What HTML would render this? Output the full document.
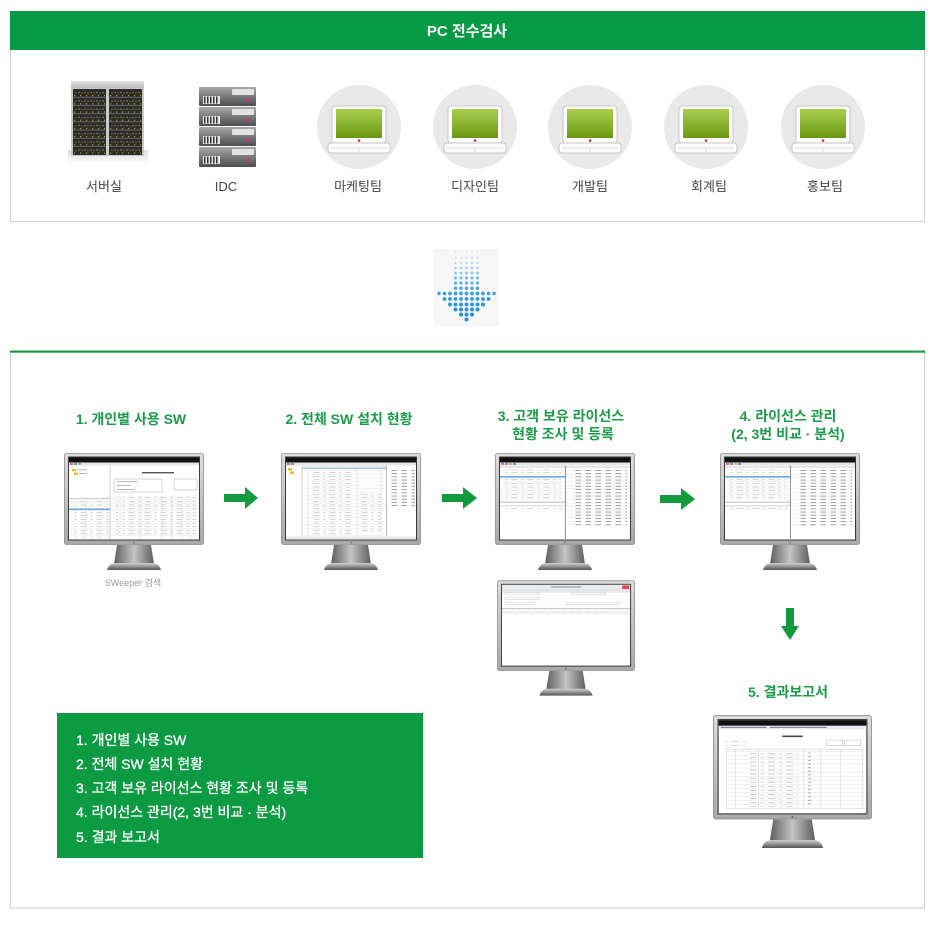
<!DOCTYPE html>
<html><head><meta charset="utf-8">
<style>
html,body{margin:0;padding:0;background:#fff;}
svg{display:block;}
text{font-family:"Liberation Sans","Noto Sans CJK KR",sans-serif;}
</style></head><body>
<svg width="940" height="928" viewBox="0 0 940 928" xmlns="http://www.w3.org/2000/svg">
<defs>
  <linearGradient id="bez" x1="0" y1="0" x2="0" y2="1">
    <stop offset="0" stop-color="#dedede"/><stop offset="1" stop-color="#a8a8a8"/>
  </linearGradient>
  <linearGradient id="neck" x1="0" y1="0" x2="1" y2="0">
    <stop offset="0" stop-color="#5e5e5e"/><stop offset="0.5" stop-color="#c4c4c4"/><stop offset="1" stop-color="#5e5e5e"/>
  </linearGradient>
  <linearGradient id="base" x1="0" y1="0" x2="0" y2="1">
    <stop offset="0" stop-color="#d0d0d0"/><stop offset="1" stop-color="#555"/>
  </linearGradient>
  <linearGradient id="lg" x1="0" y1="0" x2="0" y2="1">
    <stop offset="0" stop-color="#a9cf50"/><stop offset="1" stop-color="#6a9810"/>
  </linearGradient>
  <linearGradient id="srv" x1="0" y1="0" x2="0" y2="1">
    <stop offset="0" stop-color="#a8a8a8"/><stop offset="0.5" stop-color="#7a7a7a"/><stop offset="1" stop-color="#4e4e4e"/>
  </linearGradient>
  <linearGradient id="cap" x1="0" y1="0" x2="0" y2="1">
    <stop offset="0" stop-color="#e4e4e4"/><stop offset="1" stop-color="#b8b8b8"/>
  </linearGradient>
  <linearGradient id="shadow" x1="0" y1="0" x2="0" y2="1">
    <stop offset="0" stop-color="#dcdcdc"/><stop offset="1" stop-color="#fafafa"/>
  </linearGradient>
  <pattern id="yd" width="6" height="8.2" patternUnits="userSpaceOnUse">
    <rect x="0.5" y="2" width="1.2" height="0.9" fill="#c9c23e"/>
    <rect x="3.5" y="2.4" width="1" height="0.9" fill="#b8b030"/>
    <rect x="2" y="5" width="1.2" height="0.9" fill="#c9c23e"/>
  </pattern>
  <pattern id="txt" width="16" height="3.6" patternUnits="userSpaceOnUse">
    <rect x="0.5" y="1.3" width="6" height="0.6" fill="#b0b0b0"/>
    <rect x="10" y="1.3" width="3" height="0.6" fill="#c0c0c0"/>
  </pattern>
  <pattern id="txtd" width="10" height="3.2" patternUnits="userSpaceOnUse">
    <rect x="0.5" y="1.1" width="5.5" height="0.7" fill="#7a7a7a"/>
  </pattern>
  <pattern id="rowl" width="10" height="3.6" patternUnits="userSpaceOnUse">
    <rect x="0" y="3.2" width="10" height="0.3" fill="#d6d6d6"/>
  </pattern>

  <symbol id="mon" viewBox="0 0 140 117">
    <rect x="0.5" y="0.5" width="139" height="91" rx="2" fill="url(#bez)" stroke="#8c8c8c" stroke-width="0.8"/>
    <rect x="4" y="3.5" width="132" height="84" fill="#3a3a3a"/>
    <rect x="5" y="4.5" width="130" height="82" fill="#fff"/>
    <circle cx="70" cy="89.6" r="0.8" fill="#666"/>
    <path d="M53,92 L87,92 L90,111 L50,111 Z" fill="url(#neck)"/>
    <path d="M43,117 Q45,110 52,110 L88,110 Q95,110 97,117 Z" fill="url(#base)"/>
    <rect x="5" y="4.5" width="130" height="5" fill="#111"/>
    <rect x="5" y="9.5" width="130" height="3" fill="#e6e6e6"/>
  </symbol>

  <symbol id="s1" viewBox="0 0 140 117">
    <rect x="6" y="10.3" width="3" height="1.4" fill="#c44"/><rect x="10" y="10.3" width="3" height="1.4" fill="#47a"/><rect x="14" y="10.3" width="3" height="1.4" fill="#7a4"/>
    <line x1="46" y1="12.5" x2="46" y2="86" stroke="#999" stroke-width="0.5"/>
    <rect x="8" y="16" width="4" height="2.5" fill="#e5bf3c"/><rect x="10" y="19.5" width="4" height="2.5" fill="#e5bf3c"/>
    <rect x="13" y="16.5" width="10" height="0.7" fill="#999"/><rect x="15" y="20" width="8" height="0.7" fill="#999"/>
    <rect x="5" y="45" width="41" height="1.2" fill="#ccc"/>
    <rect x="6" y="47.5" width="39" height="37" fill="url(#rowl)"/>
    <rect x="6" y="47.5" width="39" height="37" fill="url(#txt)"/>
    <rect x="5" y="55.5" width="41" height="1.6" fill="#6aaae4"/>
    <line x1="22" y1="47" x2="22" y2="85" stroke="#ccc" stroke-width="0.4"/>
    <rect x="78" y="19" width="32" height="1.4" fill="#555"/>
    <rect x="50" y="26" width="48" height="13" fill="none" stroke="#aaa" stroke-width="0.5"/>
    <rect x="53" y="28" width="20" height="0.7" fill="#999"/><rect x="53" y="32" width="14" height="0.7" fill="#999"/><rect x="53" y="36" width="18" height="0.7" fill="#999"/>
    <rect x="110" y="26" width="23" height="11" fill="none" stroke="#aaa" stroke-width="0.5"/>
    <rect x="48" y="43" width="86" height="42" fill="url(#rowl)"/>
    <rect x="52" y="44" width="80" height="40" fill="url(#txt)"/>
    <g stroke="#ccc" stroke-width="0.4"><line x1="56" y1="43" x2="56" y2="85"/><line x1="77" y1="43" x2="77" y2="85"/><line x1="98" y1="43" x2="98" y2="85"/><line x1="108" y1="43" x2="108" y2="85"/><line x1="118" y1="43" x2="118" y2="85"/><line x1="126" y1="43" x2="126" y2="85"/></g>
  </symbol>

  <symbol id="s2" viewBox="0 0 140 117">
    <rect x="6" y="10.3" width="3" height="1.4" fill="#c44"/><rect x="10" y="10.3" width="3" height="1.4" fill="#47a"/>
    <rect x="7" y="15" width="4" height="2.5" fill="#e5bf3c"/><rect x="9" y="18.5" width="4" height="2.5" fill="#e5bf3c"/>
    <line x1="21" y1="12.5" x2="21" y2="86" stroke="#999" stroke-width="0.5"/>
    <rect x="21" y="13" width="84" height="2" fill="#e2e2e2"/>
    <rect x="21" y="15" width="84" height="0.7" fill="#6aaae4"/>
    <rect x="24" y="17" width="80" height="66" fill="url(#rowl)"/>
    <rect x="30" y="17" width="40" height="66" fill="url(#txt)"/>
    <rect x="80" y="40" width="20" height="40" fill="url(#txt)"/>
    <g stroke="#ccc" stroke-width="0.4"><line x1="27" y1="15" x2="27" y2="85"/><line x1="76" y1="15" x2="76" y2="85"/><line x1="100" y1="15" x2="100" y2="85"/></g>
    <line x1="105.5" y1="12.5" x2="105.5" y2="86" stroke="#888" stroke-width="0.6"/>
    <rect x="108" y="15" width="26" height="40" fill="url(#txtd)"/>
    <rect x="5" y="83.5" width="130" height="2.5" fill="#e8e8e8"/>
  </symbol>

  <symbol id="s3" viewBox="0 0 140 117">
    <rect x="6" y="10.3" width="3" height="1.4" fill="#c44"/><rect x="10" y="10.3" width="3" height="1.4" fill="#47a"/><rect x="14" y="10.3" width="3" height="1.4" fill="#e90"/><rect x="18" y="10.3" width="3" height="1.4" fill="#47a"/>
    <rect x="5" y="13" width="66" height="2" fill="#e6e6e6"/>
    <rect x="6" y="16" width="64" height="31" fill="url(#rowl)"/>
    <rect x="6" y="16" width="60" height="31" fill="url(#txt)"/>
    <rect x="5" y="23" width="65" height="1.6" fill="#6aaae4"/>
    <rect x="5" y="48.5" width="66" height="1.4" fill="#ccc"/>
    <rect x="5" y="52" width="66" height="1.6" fill="#e2e2e2"/>
    <rect x="8" y="55" width="60" height="4" fill="url(#txt)"/>
    <line x1="70.5" y1="12.5" x2="70.5" y2="86" stroke="#777" stroke-width="0.8"/>
    <rect x="71" y="13" width="64" height="2" fill="#e6e6e6"/>
    <rect x="72" y="16" width="62" height="58" fill="url(#rowl)"/>
    <rect x="80" y="17" width="52" height="56" fill="url(#txtd)"/>
  </symbol>

  <symbol id="s5" viewBox="0 0 140 117">
    <rect x="5" y="4.5" width="130" height="5" fill="#e8ecf2"/>
    <rect x="55" y="6.2" width="30" height="1" fill="#888"/>
    <rect x="127" y="5.2" width="7" height="3.5" fill="#d44"/>
    <rect x="8" y="12" width="35" height="2.5" fill="none" stroke="#bbb" stroke-width="0.4"/>
    <rect x="75" y="12" width="35" height="2.5" fill="none" stroke="#bbb" stroke-width="0.4"/>
    <rect x="8" y="17" width="35" height="2.5" fill="none" stroke="#bbb" stroke-width="0.4"/>
    <rect x="8" y="22" width="30" height="2.5" fill="none" stroke="#bbb" stroke-width="0.4"/>
    <rect x="70" y="22" width="55" height="2.5" fill="none" stroke="#bbb" stroke-width="0.4"/>
    <rect x="5" y="28" width="130" height="1.4" fill="#ccc"/>
    <rect x="5" y="31" width="130" height="2.6" fill="#eee"/>
    <rect x="8" y="34" width="125" height="2" fill="url(#txt)"/>
  </symbol>

  <symbol id="s6" viewBox="0 0 140 117">
    <rect x="5" y="9.5" width="130" height="3" fill="#eaeaf2"/>
    <rect x="7" y="10.4" width="40" height="0.7" fill="#558"/><rect x="50" y="10.4" width="50" height="0.7" fill="#558"/>
    <rect x="61" y="18" width="18" height="1.4" fill="#444"/>
    <rect x="9" y="23" width="20" height="4" fill="url(#txt)"/>
    <rect x="100" y="22" width="14" height="5" fill="none" stroke="#aaa" stroke-width="0.4"/>
    <rect x="116" y="22" width="14" height="5" fill="none" stroke="#aaa" stroke-width="0.4"/>
    <rect x="12" y="30" width="120" height="52" fill="none" stroke="#bbb" stroke-width="0.4"/>
    <rect x="12" y="30" width="120" height="52" fill="url(#rowl)"/>
    <rect x="30" y="33" width="45" height="48" fill="url(#txt)"/>
    <rect x="84" y="33" width="4" height="48" fill="url(#txtd)"/>
    <g stroke="#ccc" stroke-width="0.4"><line x1="20" y1="30" x2="20" y2="82"/><line x1="40" y1="30" x2="40" y2="82"/><line x1="80" y1="30" x2="80" y2="82"/><line x1="95" y1="30" x2="95" y2="82"/><line x1="112" y1="30" x2="112" y2="82"/></g>
  </symbol>
</defs>

<!-- TOP BOX -->
<rect x="10.5" y="11.5" width="914" height="210" fill="#fff" stroke="#cfcfcf" stroke-width="1"/>
<rect x="10" y="11" width="915" height="39" fill="#069a44"/>
<text x="467" y="36" font-size="15" font-weight="bold" fill="#fff" text-anchor="middle">PC 전수검사</text>

<!-- server rack -->
<rect x="68" y="150" width="80" height="12" fill="url(#shadow)"/>
<rect x="71" y="81" width="73" height="8" fill="url(#cap)"/>
<rect x="71" y="88" width="73" height="68" fill="#c9c9c9"/>
<rect x="73" y="89" width="33" height="66" fill="#2c2c2c"/>
<rect x="109" y="89" width="33" height="66" fill="#2c2c2c"/>
<g stroke="#666" stroke-width="1">
  <line x1="73" y1="97.2" x2="106" y2="97.2"/><line x1="73" y1="105.4" x2="106" y2="105.4"/><line x1="73" y1="113.6" x2="106" y2="113.6"/><line x1="73" y1="121.8" x2="106" y2="121.8"/><line x1="73" y1="130" x2="106" y2="130"/><line x1="73" y1="138.2" x2="106" y2="138.2"/><line x1="73" y1="146.4" x2="106" y2="146.4"/>
  <line x1="109" y1="97.2" x2="142" y2="97.2"/><line x1="109" y1="105.4" x2="142" y2="105.4"/><line x1="109" y1="113.6" x2="142" y2="113.6"/><line x1="109" y1="121.8" x2="142" y2="121.8"/><line x1="109" y1="130" x2="142" y2="130"/><line x1="109" y1="138.2" x2="142" y2="138.2"/><line x1="109" y1="146.4" x2="142" y2="146.4"/>
</g>
<rect x="74" y="89" width="31" height="66" fill="url(#yd)"/>
<rect x="110" y="89" width="31" height="66" fill="url(#yd)"/>

<!-- IDC -->
<g>
  <rect x="199" y="87" width="57" height="19" rx="1" fill="url(#srv)"/>
  <rect x="199" y="107" width="57" height="19" rx="1" fill="url(#srv)"/>
  <rect x="199" y="127" width="57" height="19" rx="1" fill="url(#srv)"/>
  <rect x="199" y="147" width="57" height="20" rx="1" fill="url(#srv)"/>
  <g fill="#e2e2e2">
    <rect x="232" y="89" width="22" height="6" rx="1"/><rect x="232" y="109" width="22" height="6" rx="1"/><rect x="232" y="129" width="22" height="6" rx="1"/><rect x="232" y="149" width="22" height="6" rx="1"/>
  </g>
  <g fill="#e8e8e8">
    <rect x="203" y="96" width="17" height="8"/><rect x="203" y="116" width="17" height="8"/><rect x="203" y="136" width="17" height="8"/><rect x="203" y="156" width="17" height="8"/>
  </g>
  <g fill="#333">
    <rect x="204" y="96.5" width="1.5" height="7"/><rect x="207" y="96.5" width="1.5" height="7"/><rect x="210" y="96.5" width="1.5" height="7"/><rect x="213" y="96.5" width="1.5" height="7"/><rect x="216" y="96.5" width="1.5" height="7"/>
    <rect x="204" y="116.5" width="1.5" height="7"/><rect x="207" y="116.5" width="1.5" height="7"/><rect x="210" y="116.5" width="1.5" height="7"/><rect x="213" y="116.5" width="1.5" height="7"/><rect x="216" y="116.5" width="1.5" height="7"/>
    <rect x="204" y="136.5" width="1.5" height="7"/><rect x="207" y="136.5" width="1.5" height="7"/><rect x="210" y="136.5" width="1.5" height="7"/><rect x="213" y="136.5" width="1.5" height="7"/><rect x="216" y="136.5" width="1.5" height="7"/>
    <rect x="204" y="156.5" width="1.5" height="7"/><rect x="207" y="156.5" width="1.5" height="7"/><rect x="210" y="156.5" width="1.5" height="7"/><rect x="213" y="156.5" width="1.5" height="7"/><rect x="216" y="156.5" width="1.5" height="7"/>
  </g>
  <g fill="#e0208a">
    <circle cx="248" cy="100" r="1.6"/><circle cx="248" cy="120" r="1.6"/><circle cx="248" cy="140" r="1.6"/><circle cx="248" cy="160" r="1.6"/>
  </g>
</g>

<!-- laptops -->
<g id="lap1">
  <circle cx="359" cy="127" r="42" fill="#e9e9e9"/>
  <rect x="332" y="106" width="54" height="37" rx="3" fill="#fff" stroke="#bdbdbd" stroke-width="0.8"/>
  <rect x="336" y="109" width="46" height="29" fill="url(#lg)"/>
  <circle cx="359" cy="140.6" r="1.3" fill="#d0208a"/>
  <rect x="328" y="143" width="62" height="10" rx="3" fill="#fafafa" stroke="#bdbdbd" stroke-width="0.8"/>
  <line x1="331" y1="148" x2="387" y2="148" stroke="#ccc" stroke-width="0.6"/>
  <line x1="359" y1="148" x2="359" y2="153" stroke="#ccc" stroke-width="0.6"/>
</g>
<use href="#lap1" x="116"/>
<use href="#lap1" x="231"/>
<use href="#lap1" x="347"/>
<use href="#lap1" x="464"/>

<g font-size="13" fill="#444" text-anchor="middle">
  <text x="104" y="191">서버실</text>
  <text x="226" y="191">IDC</text>
  <text x="358" y="191">마케팅팀</text>
  <text x="475" y="191">디자인팀</text>
  <text x="590" y="191">개발팀</text>
  <text x="709" y="191">회계팀</text>
  <text x="825" y="191">홍보팀</text>
</g>

<!-- blue dotted arrow -->
<rect x="434" y="249" width="65" height="77" fill="#f6f6f6"/>
<g fill="#cfe8f7"><circle cx="455.5" cy="252" r="0.9"/><circle cx="461" cy="252" r="0.9"/><circle cx="466.5" cy="252" r="0.9"/><circle cx="472" cy="252" r="0.9"/><circle cx="477.5" cy="252" r="0.9"/></g>
<g fill="#c0e0f5"><circle cx="455.5" cy="257.5" r="1"/><circle cx="461" cy="257.5" r="1"/><circle cx="466.5" cy="257.5" r="1"/><circle cx="472" cy="257.5" r="1"/><circle cx="477.5" cy="257.5" r="1"/></g>
<g fill="#aed7f2"><circle cx="455.5" cy="263" r="1.1"/><circle cx="461" cy="263" r="1.1"/><circle cx="466.5" cy="263" r="1.1"/><circle cx="472" cy="263" r="1.1"/><circle cx="477.5" cy="263" r="1.1"/></g>
<g fill="#9acdef"><circle cx="455.5" cy="268" r="1.25"/><circle cx="461" cy="268" r="1.25"/><circle cx="466.5" cy="268" r="1.25"/><circle cx="472" cy="268" r="1.25"/><circle cx="477.5" cy="268" r="1.25"/></g>
<g fill="#85c3ec"><circle cx="455.5" cy="273" r="1.4"/><circle cx="461" cy="273" r="1.4"/><circle cx="466.5" cy="273" r="1.4"/><circle cx="472" cy="273" r="1.4"/><circle cx="477.5" cy="273" r="1.4"/></g>
<g fill="#70b9e8"><circle cx="455.5" cy="278" r="1.5"/><circle cx="461" cy="278" r="1.5"/><circle cx="466.5" cy="278" r="1.5"/><circle cx="472" cy="278" r="1.5"/><circle cx="477.5" cy="278" r="1.5"/></g>
<g fill="#5cafe4"><circle cx="455.5" cy="283" r="1.6"/><circle cx="461" cy="283" r="1.6"/><circle cx="466.5" cy="283" r="1.6"/><circle cx="472" cy="283" r="1.6"/><circle cx="477.5" cy="283" r="1.6"/></g>
<g fill="#4aa6e0"><circle cx="455.5" cy="288.3" r="1.75"/><circle cx="461" cy="288.3" r="1.75"/><circle cx="466.5" cy="288.3" r="1.75"/><circle cx="472" cy="288.3" r="1.75"/><circle cx="477.5" cy="288.3" r="1.75"/></g>
<g fill="#3a9fdd">
  <circle cx="439" cy="293.5" r="1.7"/><circle cx="444.5" cy="293.5" r="1.8"/><circle cx="450" cy="293.5" r="1.9"/><circle cx="455.5" cy="293.5" r="1.9"/><circle cx="461" cy="293.5" r="1.9"/><circle cx="466.5" cy="293.5" r="1.9"/><circle cx="472" cy="293.5" r="1.9"/><circle cx="477.5" cy="293.5" r="1.9"/><circle cx="483" cy="293.5" r="1.9"/><circle cx="488.5" cy="293.5" r="1.8"/><circle cx="494" cy="293.5" r="1.7"/>
</g>
<g fill="#339bdb">
  <circle cx="444.5" cy="299" r="1.9"/><circle cx="450" cy="299" r="1.9"/><circle cx="455.5" cy="299" r="1.9"/><circle cx="461" cy="299" r="1.9"/><circle cx="466.5" cy="299" r="1.9"/><circle cx="472" cy="299" r="1.9"/><circle cx="477.5" cy="299" r="1.9"/><circle cx="483" cy="299" r="1.9"/><circle cx="488.5" cy="299" r="1.9"/>
</g>
<g fill="#2e98d9">
  <circle cx="450" cy="304.5" r="2"/><circle cx="455.5" cy="304.5" r="2"/><circle cx="461" cy="304.5" r="2"/><circle cx="466.5" cy="304.5" r="2"/><circle cx="472" cy="304.5" r="2"/><circle cx="477.5" cy="304.5" r="2"/><circle cx="483" cy="304.5" r="2"/>
</g>
<g fill="#2a95d7">
  <circle cx="455.5" cy="309.5" r="2"/><circle cx="461" cy="309.5" r="2"/><circle cx="466.5" cy="309.5" r="2"/><circle cx="472" cy="309.5" r="2"/><circle cx="477.5" cy="309.5" r="2"/>
</g>
<g fill="#2893d6"><circle cx="461" cy="314.5" r="2"/><circle cx="466.5" cy="314.5" r="2"/><circle cx="472" cy="314.5" r="2"/></g>
<circle cx="466.5" cy="319.5" r="2" fill="#2591d5"/>

<!-- BOTTOM BOX -->
<rect x="10.5" y="352" width="914" height="556" fill="#fff" stroke="#d0d0d0" stroke-width="1"/>
<rect x="10" y="350.5" width="915" height="2.2" fill="#1a9a3c"/>

<!-- step titles -->
<g font-size="14" font-weight="bold" fill="#1c9c48" text-anchor="middle">
  <text x="131" y="424">1. 개인별 사용 SW</text>
  <text x="349" y="424">2. 전체 SW 설치 현황</text>
  <text x="561" y="421">3. 고객 보유 라이선스</text>
  <text x="563" y="439">현황 조사 및 등록</text>
  <text x="788" y="421">4. 라이선스 관리</text>
  <text x="788" y="439">(2, 3번 비교 · 분석)</text>
  <text x="788" y="697">5. 결과보고서</text>
</g>

<!-- monitors -->
<use href="#mon" x="64" y="453" width="140" height="117"/>
<use href="#s1" x="64" y="453" width="140" height="117"/>
<use href="#mon" x="281" y="453" width="140" height="117"/>
<use href="#s2" x="281" y="453" width="140" height="117"/>
<use href="#mon" x="495" y="453" width="140" height="117"/>
<use href="#s3" x="495" y="453" width="140" height="117"/>
<use href="#mon" x="720" y="453" width="140" height="117"/>
<use href="#s3" x="720" y="453" width="140" height="117"/>
<use href="#mon" x="497" y="580" width="138" height="116"/>
<use href="#s5" x="497" y="580" width="138" height="116"/>
<use href="#mon" x="713" y="715" width="159" height="133"/>
<use href="#s6" x="713" y="715" width="159" height="133"/>

<text x="133" y="586" font-size="9" fill="#9a9a9a" text-anchor="middle">SWeeper 검색</text>

<!-- green arrows -->
<g fill="#139a3f">
  <polygon points="224,494 245,494 245,487 258,498 245,509 245,502 224,502"/>
  <polygon points="442,494 463,494 463,487 477,498 463,509 463,502 442,502"/>
  <polygon points="660,495 681,495 681,488 695,499 681,510 681,503 660,503"/>
  <polygon points="786,608 794,608 794,626 799,626 790,640 781,626 786,626"/>
</g>

<!-- summary box -->
<rect x="57" y="713" width="366" height="145" fill="#0c9a42"/>
<g font-size="14" fill="#fff" stroke="#fff" stroke-width="0.3">
  <text x="76" y="745">1. 개인별 사용 SW</text>
  <text x="76" y="769">2. 전체 SW 설치 현황</text>
  <text x="76" y="793">3. 고객 보유 라이선스 현황 조사 및 등록</text>
  <text x="76" y="817">4. 라이선스 관리(2, 3번 비교 · 분석)</text>
  <text x="76" y="842">5. 결과 보고서</text>
</g>
</svg>
</body></html>
